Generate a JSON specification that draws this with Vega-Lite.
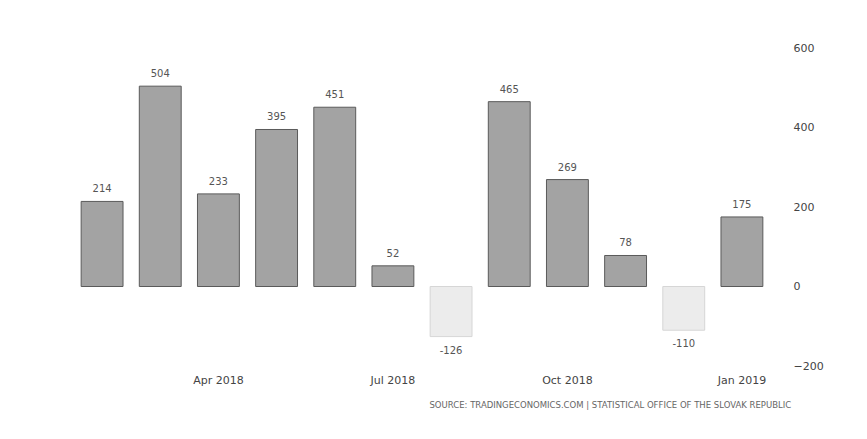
{
  "$schema": "https://vega.github.io/schema/vega-lite/v6.json",
  "width": 698,
  "height": 318,
  "padding": {"left": 73, "top": 42, "right": 10, "bottom": 5},
  "background": "#ffffff",
  "config": {"view": {"stroke": null}, "font": "DejaVu Sans"},
  "title": {
    "text": "SOURCE: TRADINGECONOMICS.COM | STATISTICAL OFFICE OF THE SLOVAK REPUBLIC",
    "orient": "bottom",
    "anchor": "end",
    "fontSize": 8.5,
    "fontWeight": "normal",
    "color": "#666666",
    "offset": 16,
    "dx": -32
  },
  "data": {
    "values": [
      {"month": "Feb 2018", "value": 214},
      {"month": "Mar 2018", "value": 504},
      {"month": "Apr 2018", "value": 233},
      {"month": "May 2018", "value": 395},
      {"month": "Jun 2018", "value": 451},
      {"month": "Jul 2018", "value": 52},
      {"month": "Aug 2018", "value": -126},
      {"month": "Sep 2018", "value": 465},
      {"month": "Oct 2018", "value": 269},
      {"month": "Nov 2018", "value": 78},
      {"month": "Dec 2018", "value": -110},
      {"month": "Jan 2019", "value": 175}
    ]
  },
  "encoding": {
    "x": {
      "field": "month",
      "type": "ordinal",
      "sort": null,
      "scale": {"paddingInner": 0.28, "paddingOuter": 0.14},
      "axis": {
        "title": null,
        "domain": false,
        "ticks": false,
        "labelAngle": 0,
        "labelFontSize": 11,
        "labelColor": "#444444",
        "labelPadding": 8,
        "labelExpr": "(datum.value == 'Apr 2018' || datum.value == 'Jul 2018' || datum.value == 'Oct 2018' || datum.value == 'Jan 2019') ? datum.value : ''"
      }
    },
    "y": {
      "field": "value",
      "type": "quantitative",
      "scale": {"domain": [-200, 600], "nice": false},
      "axis": {
        "orient": "right",
        "title": null,
        "domain": false,
        "ticks": false,
        "grid": false,
        "values": [-200, 0, 200, 400, 600],
        "labelFontSize": 11,
        "labelColor": "#444444",
        "labelPadding": 22
      }
    }
  },
  "layer": [
    {
      "mark": {"type": "bar", "strokeWidth": 1},
      "encoding": {
        "color": {
          "condition": {"test": "datum.value < 0", "value": "#ececec"},
          "value": "#a3a3a3"
        },
        "stroke": {
          "condition": {"test": "datum.value < 0", "value": "#d6d6d6"},
          "value": "#5a5a5a"
        }
      }
    },
    {
      "transform": [{"filter": "datum.value >= 0"}],
      "mark": {"type": "text", "fontSize": 10, "color": "#555555", "dy": -12},
      "encoding": {
        "text": {"field": "value", "type": "nominal"}
      }
    },
    {
      "transform": [{"filter": "datum.value < 0"}],
      "mark": {"type": "text", "fontSize": 10, "color": "#555555", "dy": 14},
      "encoding": {
        "text": {"field": "value", "type": "nominal"}
      }
    }
  ]
}
